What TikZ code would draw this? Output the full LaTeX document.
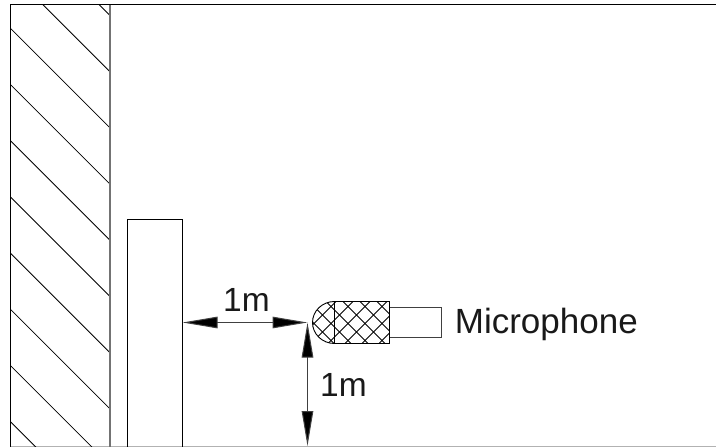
\documentclass[tikz,border=0pt]{standalone}
\usepackage{fontspec}
\setmainfont{Liberation Sans}
\usetikzlibrary{arrows.meta}
\tikzset{
  thinline/.style={line width=0.9pt,draw=black},
  greyline/.style={line width=1.3pt,draw=black!55},
  hatchline/.style={line width=0.8pt,draw=black},
  dimline/.style={line width=1pt,draw=black!75,{Triangle[length=35pt,width=11.5pt,fill=black]}-{Triangle[length=35pt,width=11.5pt,fill=black]}},
  dimlabel/.style={inner sep=0pt,anchor=base,font=\fontsize{33.5}{33.5}\selectfont,text=black!90},
  miclabel/.style={inner sep=0pt,anchor=base west,font=\fontsize{35}{35}\selectfont,text=black!90},
}
\begin{document}
\begin{tikzpicture}[x=1pt,y=-1pt]
\useasboundingbox (0,0) rectangle (716,447);
% frame
\draw[line width=1pt] (10.5,446.5) -- (10.5,4.5) -- (716,4.5);
\draw[line width=0.6pt,draw=black!30] (10.5,446.5) -- (716,446.5);
% wall hatching
\begin{scope}
\clip (10.5,4.5) rectangle (110,446.5);
\foreach \c in {-94.5,-38.3,17.9,74.1,130.3,186.5,242.7,298.9,355.1,411.3}
  \draw[hatchline] (10.5,10.5+\c) -- (110,110+\c);
\end{scope}
\draw[greyline] (110,4.5) -- (110,446.5);
% column
\draw[thinline] (127.5,446.5) -- (127.5,219.5) -- (182.5,219.5) -- (182.5,446.5);
% microphone
\coordinate (tip) at (307.5,322.5);
\coordinate (columnface) at (182.5,322.5);
\coordinate (floor) at (307.5,446);
\begin{scope}
\clip (334.5,301.5) -- (389.5,301.5) -- (389.5,343.5) -- (334.5,343.5) arc[start angle=90,end angle=270,x radius=22,y radius=21] -- cycle;
\foreach \c in {-9,...,7} {
  \draw[hatchline] (365-50+17*\c,306.5-50) -- (365+50+17*\c,306.5+50);
  \draw[hatchline] (365+50+17*\c,306.5-50) -- (365-50+17*\c,306.5+50);
}
\end{scope}
\draw[thinline] (334.5,301.5) -- (389.5,301.5) -- (389.5,343.5) -- (334.5,343.5) arc[start angle=90,end angle=270,x radius=22,y radius=21];
\draw[thinline] (334.5,301.5) -- (334.5,343.5);
\draw[thinline,draw=black!75] (389.5,307.5) -- (441,307.5) -- (441,337.5) -- (389.5,337.5);
% dimensions
\draw[dimline] (columnface) -- (tip);
\draw[dimline] (tip) -- (floor);
% labels
\node[dimlabel] (hdim) at (246.5,311.7) {1m};
\node[dimlabel] (vdim) at (343.5,396) {1m};
\node[miclabel] (mic) at (454.7,333.3) {Microphone};
\end{tikzpicture}
\end{document}
